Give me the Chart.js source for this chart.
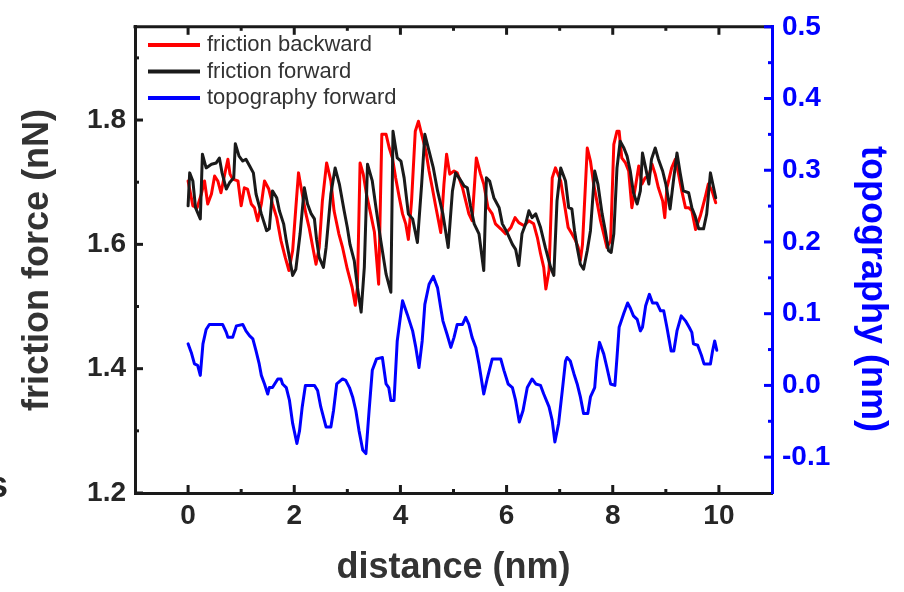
<!DOCTYPE html>
<html><head><meta charset="utf-8">
<script src="https://cdn.jsdelivr.net/npm/chart.js@4.4.1/dist/chart.umd.min.js"></script>
<style>html,body{margin:0;padding:0;background:#fff;overflow:hidden}</style>
</head><body>
<canvas id="c" width="904" height="592" style="display:block;width:904px;height:592px"></canvas>
<script>
// ---- data ----
const frictionForwardX = [
0.00,0.03,0.09,0.14,0.23,0.27,0.34,0.44,0.53,0.59,
0.64,0.72,0.78,0.86,0.89,0.96,1.03,1.09,1.16,1.23,
1.28,1.38,1.48,1.53,1.59,1.67,1.72,1.80,1.85,1.91,
1.97,2.03,2.11,2.19,2.25,2.32,2.38,2.42,2.47,2.55,
2.60,2.69,2.77,2.85,2.94,3.00,3.05,3.13,3.19,3.26,
3.32,3.38,3.47,3.54,3.63,3.73,3.82,3.86,3.94,4.01,
4.07,4.15,4.23,4.32,4.40,4.46,4.54,4.62,4.70,4.80,
4.90,4.98,5.04,5.12,5.20,5.26,5.32,5.39,5.48,5.57,
5.62,5.68,5.76,5.86,5.92,6.01,6.11,6.17,6.23,6.29,
6.36,6.42,6.48,6.55,6.64,6.73,6.83,6.89,6.95,7.02,
7.11,7.17,7.23,7.28,7.33,7.39,7.45,7.52,7.58,7.66,
7.72,7.80,7.86,7.92,7.97,8.02,8.08,8.14,8.21,8.27,
8.33,8.39,8.46,8.52,8.56,8.62,8.68,8.73,8.80,8.86,
8.94,9.00,9.08,9.15,9.21,9.27,9.33,9.43,9.49,9.55,
9.62,9.71,9.77,9.84,9.90,9.94];
const frictionForwardY = [
1.662,1.715,1.702,1.659,1.641,1.745,1.723,1.729,1.731,1.739,
1.715,1.689,1.699,1.707,1.762,1.742,1.734,1.737,1.726,1.715,
1.681,1.649,1.622,1.625,1.686,1.675,1.654,1.633,1.606,1.579,
1.550,1.560,1.617,1.691,1.665,1.649,1.641,1.608,1.579,1.563,
1.595,1.681,1.723,1.697,1.654,1.627,1.600,1.574,1.531,1.491,
1.563,1.729,1.702,1.659,1.606,1.552,1.523,1.782,1.739,1.734,
1.707,1.649,1.641,1.603,1.697,1.777,1.750,1.723,1.686,1.649,
1.595,1.686,1.715,1.705,1.694,1.691,1.662,1.633,1.617,1.558,
1.707,1.702,1.675,1.659,1.633,1.619,1.600,1.592,1.566,1.617,
1.633,1.654,1.643,1.649,1.627,1.595,1.563,1.550,1.670,1.723,
1.702,1.659,1.657,1.622,1.595,1.568,1.560,1.590,1.622,1.718,
1.697,1.649,1.622,1.590,1.587,1.617,1.723,1.766,1.755,1.742,
1.718,1.683,1.665,1.686,1.747,1.723,1.697,1.737,1.755,1.737,
1.718,1.697,1.657,1.707,1.747,1.715,1.686,1.683,1.659,1.646,
1.625,1.625,1.649,1.715,1.691,1.675];

const frictionBackwardX = [
0.00,0.09,0.17,0.25,0.31,0.37,0.44,0.50,0.56,0.62,
0.69,0.75,0.79,0.84,0.94,1.00,1.06,1.12,1.19,1.25,
1.31,1.38,1.44,1.52,1.59,1.67,1.75,1.83,1.90,1.97,
2.03,2.08,2.15,2.22,2.28,2.35,2.41,2.47,2.53,2.61,
2.69,2.75,2.84,2.91,3.00,3.09,3.15,3.19,3.24,3.30,
3.36,3.44,3.51,3.59,3.65,3.73,3.79,3.85,3.91,3.98,
4.04,4.10,4.15,4.21,4.28,4.34,4.40,4.48,4.54,4.60,
4.67,4.76,4.82,4.87,4.93,5.01,5.07,5.17,5.23,5.29,
5.35,5.43,5.51,5.57,5.65,5.73,5.79,5.89,5.98,6.08,
6.16,6.23,6.33,6.42,6.51,6.58,6.64,6.70,6.74,6.80,
6.86,6.92,7.02,7.08,7.16,7.23,7.30,7.35,7.39,7.43,
7.52,7.58,7.64,7.70,7.77,7.83,7.89,7.96,8.02,8.08,
8.12,8.17,8.24,8.30,8.36,8.43,8.49,8.55,8.61,8.68,
8.74,8.80,8.86,8.94,8.98,9.02,9.11,9.18,9.24,9.30,
9.37,9.43,9.49,9.56,9.65,9.74,9.80,9.87,9.94];
const frictionBackwardY = [
1.702,1.662,1.659,1.681,1.702,1.665,1.681,1.710,1.702,1.683,
1.713,1.737,1.713,1.705,1.702,1.662,1.691,1.689,1.665,1.659,
1.638,1.665,1.702,1.689,1.665,1.643,1.606,1.579,1.558,1.590,
1.659,1.715,1.681,1.649,1.627,1.595,1.568,1.595,1.670,1.731,
1.702,1.654,1.617,1.595,1.560,1.531,1.502,1.531,1.731,1.713,
1.681,1.649,1.620,1.536,1.777,1.777,1.755,1.739,1.707,1.675,
1.649,1.633,1.608,1.670,1.782,1.798,1.777,1.750,1.718,1.691,
1.659,1.619,1.697,1.745,1.713,1.718,1.715,1.691,1.670,1.649,
1.638,1.739,1.713,1.697,1.659,1.649,1.633,1.625,1.617,1.627,
1.643,1.635,1.630,1.638,1.633,1.611,1.585,1.563,1.528,1.558,
1.707,1.723,1.702,1.670,1.627,1.617,1.606,1.595,1.574,1.600,
1.755,1.734,1.697,1.670,1.638,1.617,1.595,1.606,1.761,1.782,
1.782,1.739,1.731,1.718,1.659,1.694,1.726,1.697,1.707,1.710,
1.729,1.713,1.691,1.670,1.643,1.691,1.723,1.737,1.713,1.686,
1.659,1.659,1.654,1.624,1.646,1.675,1.697,1.686,1.667];

const topographyX = [
0.00,0.06,0.12,0.18,0.23,0.28,0.34,0.40,0.65,0.72,
0.75,0.84,0.91,1.03,1.09,1.16,1.22,1.28,1.34,1.38,
1.44,1.50,1.53,1.59,1.69,1.75,1.78,1.85,1.91,1.97,
2.05,2.10,2.15,2.21,2.38,2.44,2.50,2.60,2.69,2.74,
2.80,2.91,2.97,3.04,3.10,3.16,3.22,3.29,3.35,3.41,
3.47,3.55,3.66,3.73,3.78,3.82,3.88,3.94,4.04,4.13,
4.23,4.29,4.35,4.41,4.46,4.54,4.62,4.70,4.76,4.80,
4.88,4.95,5.01,5.07,5.17,5.23,5.29,5.35,5.42,5.48,
5.57,5.64,5.73,5.89,5.95,6.03,6.11,6.17,6.24,6.31,
6.39,6.48,6.55,6.64,6.70,6.80,6.86,6.91,6.98,7.05,
7.11,7.14,7.20,7.27,7.33,7.39,7.45,7.53,7.58,7.66,
7.70,7.75,7.83,7.89,7.96,8.04,8.08,8.12,8.21,8.28,
8.33,8.39,8.46,8.52,8.56,8.62,8.69,8.75,8.83,8.90,
8.96,9.02,9.10,9.15,9.21,9.29,9.37,9.44,9.49,9.52,
9.60,9.67,9.72,9.84,9.88,9.92,9.96];
const topographyY = [
0.058,0.046,0.030,0.028,0.014,0.058,0.078,0.085,0.085,0.074,
0.067,0.067,0.083,0.085,0.076,0.069,0.065,0.048,0.030,0.014,
0.002,-0.012,-0.003,-0.003,0.009,0.009,0.002,-0.003,-0.021,-0.053,
-0.081,-0.063,-0.030,0.000,0.000,-0.007,-0.030,-0.058,-0.058,-0.035,
0.002,0.009,0.007,-0.003,-0.016,-0.035,-0.063,-0.090,-0.095,-0.035,
0.021,0.037,0.039,0.002,-0.003,-0.021,-0.021,0.062,0.118,0.099,
0.076,0.053,0.025,0.062,0.113,0.141,0.152,0.136,0.108,0.090,
0.071,0.053,0.067,0.085,0.085,0.095,0.085,0.067,0.053,0.030,
-0.012,0.011,0.037,0.037,0.021,0.002,-0.003,-0.021,-0.051,-0.035,
-0.003,0.009,0.002,0.000,-0.012,-0.030,-0.049,-0.079,-0.053,-0.007,
0.034,0.039,0.034,0.016,0.002,-0.016,-0.039,-0.039,-0.016,-0.003,
0.034,0.060,0.044,0.025,0.002,0.000,0.039,0.081,0.101,0.115,
0.108,0.097,0.092,0.076,0.081,0.111,0.127,0.115,0.115,0.104,
0.104,0.081,0.048,0.048,0.076,0.097,0.090,0.081,0.074,0.058,
0.056,0.042,0.030,0.030,0.048,0.062,0.049];

const seriesLabels = ['friction backward', 'friction forward', 'topography forward'];
const distanceTicks = [0, 2, 4, 6, 8, 10];
const distanceMinorTicks = [1, 3, 5, 7, 9];
const frictionTicks = [1.2, 1.4, 1.6, 1.8];
const frictionMinorTicks = [1.3, 1.5, 1.7, 1.9];
const topographyTicks = [-0.1, 0.0, 0.1, 0.2, 0.3, 0.4, 0.5];
const topographyMinorTicks = [-0.05, 0.05, 0.15, 0.25, 0.35, 0.45];

// ---- styling ----
const FONT = "'Liberation Sans', Arial, Helvetica, sans-serif";
const RED = '#ff0000', BLACK = '#1a1a1a', BLUE = '#0000ff', TEXT = '#262626';

function pairs(xs, ys) { return xs.map((x, i) => ({ x: x, y: ys[i] })); }

const decor = {
  id: 'decor',
  afterDraw(chart) {
    const { ctx, chartArea: a, scales } = chart;
    const seg = (x1, y1, x2, y2) => { ctx.beginPath(); ctx.moveTo(x1, y1); ctx.lineTo(x2, y2); ctx.stroke(); };
    ctx.save();
    ctx.lineCap = 'butt';
    ctx.lineWidth = 3;
    ctx.strokeStyle = BLACK;
    // top frame line
    seg(a.left - 1.5, a.top, a.right, a.top);
    // x ticks (inward, bottom and top)
    distanceTicks.forEach(v => { const p = scales.x.getPixelForValue(v); seg(p, a.bottom, p, a.bottom - 8); seg(p, a.top, p, a.top + 8); });
    distanceMinorTicks.forEach(v => { const p = scales.x.getPixelForValue(v); seg(p, a.bottom, p, a.bottom - 4); seg(p, a.top, p, a.top + 4); });
    // left y ticks
    frictionTicks.forEach(v => { const p = scales.y.getPixelForValue(v); seg(a.left, p, a.left + 8, p); });
    frictionMinorTicks.forEach(v => { const p = scales.y.getPixelForValue(v); seg(a.left, p, a.left + 4, p); });
    // right y ticks
    ctx.strokeStyle = BLUE;
    topographyTicks.forEach(v => { const p = scales.y2.getPixelForValue(v); seg(a.right, p, a.right - 8, p); });
    topographyMinorTicks.forEach(v => { const p = scales.y2.getPixelForValue(v); seg(a.right, p, a.right - 4, p); });

    // right axis title
    ctx.save();
    ctx.translate(872, (a.top + a.bottom) / 2 + 29);
    ctx.rotate(Math.PI / 2);
    ctx.fillStyle = BLUE;
    ctx.font = 'bold 36px ' + FONT;
    ctx.textAlign = 'center';
    ctx.textBaseline = 'middle';
    ctx.fillText('topography (nm)', 0, 0);
    ctx.restore();

    // legend (inside plot, top-left)
    const order = [0, 1, 2];
    ctx.font = '22px ' + FONT;
    ctx.textAlign = 'left';
    ctx.textBaseline = 'middle';
    order.forEach((di, i) => {
      const ds = chart.data.datasets[di];
      const y = 45 + i * 26.5;
      ctx.strokeStyle = ds.borderColor;
      ctx.lineWidth = 4;
      seg(148, y, 200, y);
      ctx.fillStyle = '#333';
      ctx.fillText(ds.label, 207, y);
    });

    // clipped letter at the far left edge of the reference
    ctx.fillStyle = TEXT;
    ctx.font = 'bold 36px ' + FONT;
    ctx.textAlign = 'left';
    ctx.textBaseline = 'alphabetic';
    ctx.fillText('s', -12, 497);
    ctx.restore();
  }
};

new Chart(document.getElementById('c'), {
  type: 'line',
  data: {
    datasets: [
      { label: seriesLabels[0], data: pairs(frictionBackwardX, frictionBackwardY), borderColor: RED, yAxisID: 'y', order: 1 },
      { label: seriesLabels[1], data: pairs(frictionForwardX, frictionForwardY), borderColor: BLACK, yAxisID: 'y', order: 0 },
      { label: seriesLabels[2], data: pairs(topographyX, topographyY), borderColor: BLUE, yAxisID: 'y2', order: 2 }
    ]
  },
  options: {
    responsive: false,
    animation: false,
    devicePixelRatio: 1,
    layout: { padding: { top: 24, left: 0, right: 0, bottom: 0 } },
    plugins: { legend: { display: false }, tooltip: { enabled: false } },
    elements: {
      point: { radius: 0, hoverRadius: 0 },
      line: { tension: 0, borderWidth: 3, borderJoinStyle: 'round', borderCapStyle: 'round', fill: false }
    },
    scales: {
      x: {
        type: 'linear', position: 'bottom', min: -1, max: 11,
        afterBuildTicks: s => { s.ticks = distanceTicks.map(v => ({ value: v })); },
        afterFit: s => { s.height = 99; },
        grid: { display: false, drawTicks: false },
        border: { display: true, color: BLACK, width: 3 },
        ticks: { padding: 6, color: TEXT, font: { family: FONT, size: 28, weight: 'bold' }, callback: v => String(v), maxRotation: 0, autoSkip: false },
        title: { display: true, text: 'distance (nm)', color: '#333', font: { family: FONT, size: 36, weight: 'bold' }, padding: { top: 0, bottom: 2 } }
      },
      y: {
        type: 'linear', position: 'left', min: 1.2, max: 1.95,
        afterBuildTicks: s => { s.ticks = frictionTicks.map(v => ({ value: v })); },
        afterFit: s => { s.width = 135; },
        grid: { display: false, drawTicks: false },
        border: { display: true, color: BLACK, width: 3 },
        ticks: { padding: 9, color: TEXT, font: { family: FONT, size: 28, weight: 'bold' }, callback: v => Number(v).toFixed(1), autoSkip: false },
        title: { display: true, text: 'friction force (nN)', color: '#333', font: { family: FONT, size: 36, weight: 'bold' }, padding: { top: 16, bottom: 0 } }
      },
      y2: {
        type: 'linear', position: 'right', min: -0.15, max: 0.5,
        afterBuildTicks: s => { s.ticks = topographyTicks.map(v => ({ value: v })); },
        afterFit: s => { s.width = 132; },
        grid: { display: false, drawTicks: false },
        border: { display: true, color: BLUE, width: 3 },
        ticks: { padding: 10, color: BLUE, font: { family: FONT, size: 28, weight: 'bold' }, callback: v => Number(v).toFixed(1), autoSkip: false },
        title: { display: false }
      }
    }
  },
  plugins: [decor]
});
</script>
</body></html>
